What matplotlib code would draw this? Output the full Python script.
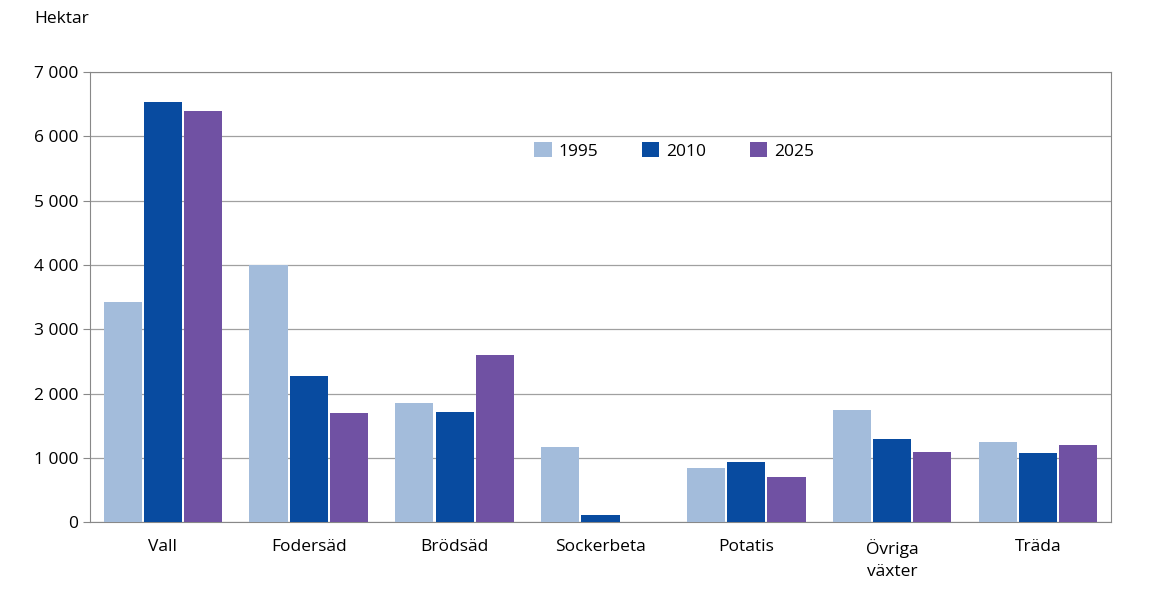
import numpy as np
import matplotlib.pyplot as plt
from matplotlib.ticker import FuncFormatter

plt.rcParams['font.family'] = ['Open Sans', 'DejaVu Sans']

kategorier = ['Vall', 'Fodersäd', 'Brödsäd', 'Sockerbeta', 'Potatis', 'Övriga\nväxter', 'Träda']
v1995 = [3420, 4000, 1850, 1170, 840, 1740, 1250]
v2010 = [6540, 2270, 1710, 110, 940, 1290, 1080]
v2025 = [6400, 1700, 2600, 0, 700, 1090, 1200]

fig = plt.figure(figsize=(11.62, 6.12), dpi=100)
ax = fig.add_axes([0.0775, 0.147, 0.8785, 0.735])
x = np.arange(len(kategorier))
w = 0.262
s = 0.276
ax.bar(x - s, v1995, w, color='#A3BCDB', label='1995', zorder=3)
ax.bar(x, v2010, w, color='#084BA0', label='2010', zorder=3)
ax.bar(x + s, v2025, w, color='#7051A3', label='2025', zorder=3)

ax.set_xlim(-0.5, len(kategorier) - 0.5)
ax.set_ylim(0, 7000)
ax.set_yticks(range(0, 7001, 1000))
ax.yaxis.set_major_formatter(FuncFormatter(lambda v, p: f'{int(v):,}'.replace(',', ' ')))
ax.yaxis.grid(True, color='#A0A0A0', linewidth=0.9, zorder=0)
ax.set_xticks(x)
ax.set_xticklabels(kategorier, fontsize=12.5, linespacing=1.5)
ax.tick_params(axis='x', length=0, pad=12)
ax.tick_params(axis='y', labelsize=12.5, length=5, color='#888888')
for sp in ax.spines.values():
    sp.set_color('#888888')

ax.text(-0.055, 1.1, 'Hektar', transform=ax.transAxes, fontsize=12.5, va='bottom')
ax.legend(loc='upper left', bbox_to_anchor=(0.42, 0.88), ncol=3, frameon=False,
          fontsize=12.5, handlelength=1.0, handleheight=1.0, columnspacing=2.5, handletextpad=0.4)

fig.savefig('out.png', dpi=100)
